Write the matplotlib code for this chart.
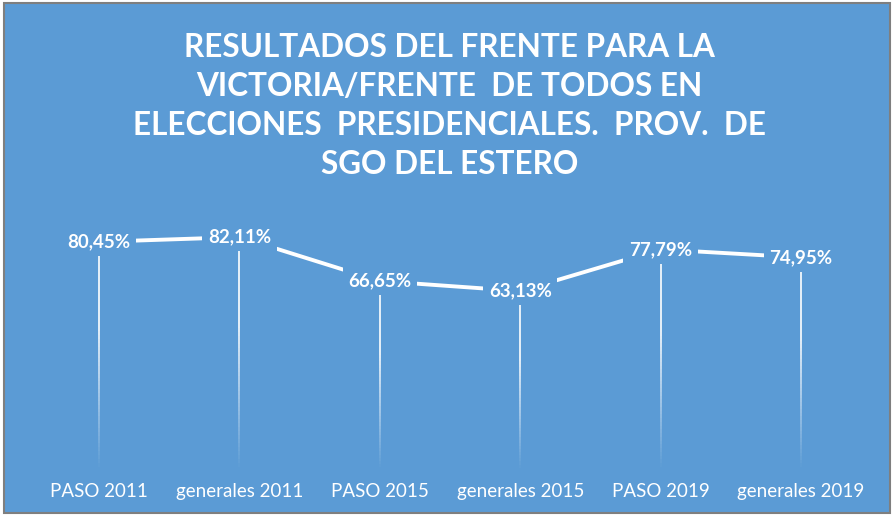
import matplotlib.pyplot as plt
import numpy as np
from matplotlib.collections import LineCollection
from matplotlib.patches import Rectangle

# Datos del gráfico
categorias = ['PASO 2011', 'generales 2011', 'PASO 2015', 'generales 2015', 'PASO 2019', 'generales 2019']
valores = [80.45, 82.11, 66.65, 63.13, 77.79, 74.95]
etiquetas = ['80,45%', '82,11%', '66,65%', '63,13%', '77,79%', '74,95%']
titulo = ('RESULTADOS DEL FRENTE PARA LA\nVICTORIA/FRENTE  DE TODOS EN\n'
          'ELECCIONES  PRESIDENCIALES.  PROV.  DE\nSGO DEL ESTERO')

azul = '#5B9BD5'
fuente = ['Lato', 'DejaVu Sans']

fig = plt.figure(figsize=(8.94, 5.16), dpi=100, facecolor='white')
fig.patches.append(Rectangle((0.004, 0.006), 0.992, 0.988, transform=fig.transFigure,
                             facecolor=azul, edgecolor='#7f7f7f', linewidth=1.5, zorder=-10))

ax = fig.add_axes([0.0322, 0.088, 0.9423, 0.496])
ax.set_facecolor('none')
ax.set_zorder(5)
x = np.arange(len(categorias))

# lineas verticales que se desvanecen hacia abajo
for xi, v in zip(x, valores):
    ys = np.linspace(v, 0, 60)
    segs = [[(xi, ys[k]), (xi, ys[k + 1])] for k in range(len(ys) - 1)]
    alphas = np.clip(np.linspace(1.0, 0.0, len(segs)) * 1.6, 0, 1)
    cols = [(1, 1, 1, a) for a in alphas]
    ax.add_collection(LineCollection(segs, colors=cols, linewidths=1.2, zorder=1))

ax.plot(x, valores, color='white', linewidth=2.8, zorder=2, solid_capstyle='butt')

for xi, v, t in zip(x, valores, etiquetas):
    ax.text(xi, v, t, ha='center', va='center', color='white', fontsize=13.5,
            fontweight='bold', family=fuente, zorder=3,
            bbox=dict(boxstyle='square,pad=0.3', facecolor=azul, edgecolor='none'))

ax.set_xlim(-0.5, len(categorias) - 0.5)
ax.set_ylim(0, 90)
ax.set_yticks([])
ax.set_xticks(x)
ax.set_xticklabels(categorias, color='white', fontsize=13.5, family=fuente)
ax.tick_params(axis='x', length=0, pad=9)
for s in ax.spines.values():
    s.set_visible(False)

fig.text(0.503, 0.795, titulo, ha='center', va='center', color='white', fontsize=22.7,
         fontweight='bold', family=fuente, linespacing=1.42)

fig.savefig('out.png', dpi=100, facecolor='white')
